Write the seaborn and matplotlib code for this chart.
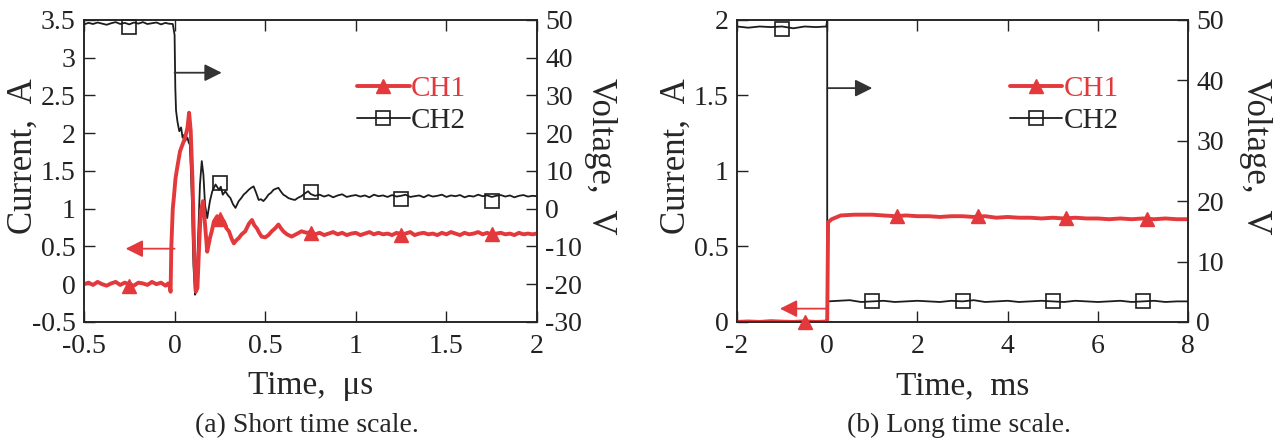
import matplotlib
matplotlib.use("Agg")
import matplotlib.pyplot as plt
import seaborn as sns
import pandas as pd
from matplotlib.lines import Line2D
from matplotlib.ticker import MultipleLocator, FuncFormatter

# ---------------- data, panel (a): short time scale (us) ----------------
a_pre_t = [-0.5, -0.475, -0.45, -0.425, -0.4, -0.375, -0.35, -0.325, -0.3, -0.275,
           -0.25, -0.225, -0.2, -0.175, -0.15, -0.125, -0.1, -0.075, -0.05, -0.035]
a_ch2_pre = [48.8, 49.2, 48.9, 49.3, 49.0, 48.7, 49.1, 49.4, 48.9, 49.2,
             48.8, 49.3, 49.0, 49.4, 48.9, 49.1, 49.3, 48.8, 49.2, 49.0]
a_ch1_pre = [0.0, 0.02, -0.01, 0.03, 0.0, -0.02, 0.01, 0.03, -0.01, 0.02,
             0.0, -0.02, 0.02, 0.01, -0.01, 0.03, 0.0, 0.02, -0.02, 0.01]

a_ch2_tr_t = [-0.01, 0.0, 0.004, 0.008, 0.016, 0.026, 0.036, 0.044, 0.052, 0.058,
              0.065, 0.071, 0.078, 0.084, 0.09, 0.095, 0.1, 0.104, 0.113, 0.118,
              0.122, 0.131, 0.14, 0.15, 0.159, 0.168, 0.18, 0.195, 0.208, 0.226,
              0.245, 0.255, 0.266, 0.28, 0.295, 0.308, 0.322, 0.336, 0.354, 0.368,
              0.381, 0.395, 0.409, 0.422, 0.436, 0.45, 0.464, 0.477, 0.49, 0.505,
              0.518, 0.532, 0.546, 0.56, 0.573, 0.587, 0.6, 0.614, 0.628, 0.646,
              0.664, 0.682, 0.7, 0.718, 0.737]
a_ch2_tr = [48.9, 46.0, 32.0, 26.0, 23.0, 20.5, 21.5, 18.8, 19.5, 17.9,
            18.5, 18.8, 17.5, 17.0, 10.0, 2.8, -8.0, -14.9, -22.8, -22.0,
            -20.0, -6.0, 6.4, 12.6, 9.0, 1.0, -2.5, 2.0, 4.6, 6.4,
            5.0, 5.8, 3.7, 4.6, 3.5, 2.8, 1.2, 0.2, 2.0, 2.8,
            3.7, 4.3, 5.0, 5.5, 5.9, 4.2, 2.3, 2.5, 2.0, 2.8,
            3.7, 4.2, 5.0, 5.3, 5.5, 4.5, 3.7, 3.3, 2.8, 2.5,
            2.3, 2.9, 3.3, 4.0, 4.6]

a_ch1_tr_t = [-0.03, -0.022, -0.018, -0.01, -0.004, 0.005, 0.015, 0.03, 0.044, 0.058,
              0.071, 0.08, 0.089, 0.099, 0.108, 0.117, 0.126, 0.135, 0.144, 0.157,
              0.168, 0.18, 0.195, 0.205, 0.217, 0.235, 0.254, 0.263, 0.272, 0.286,
              0.3, 0.315, 0.327, 0.34, 0.354, 0.37, 0.39, 0.41, 0.427, 0.44,
              0.454, 0.467, 0.48, 0.5, 0.518, 0.536, 0.555, 0.573, 0.587, 0.6,
              0.62, 0.646, 0.67, 0.7, 0.73]
a_ch1_tr = [0.0, -0.1, 0.5, 1.0, 1.15, 1.4, 1.55, 1.76, 1.85, 1.94,
            2.07, 2.27, 2.03, 1.36, 0.48, -0.1, -0.05, 0.48, 0.96, 1.1,
            0.79, 0.43, 0.61, 0.7, 0.83, 0.9, 0.79, 0.85, 0.83, 0.74,
            0.7, 0.6, 0.54, 0.58, 0.61, 0.66, 0.7, 0.8, 0.85, 0.78,
            0.74, 0.68, 0.63, 0.62, 0.65, 0.7, 0.74, 0.79, 0.74, 0.7,
            0.66, 0.63, 0.66, 0.7, 0.68]

a_post_t = [0.75 + 0.025 * k for k in range(51)]
a_ch2_post = [3.9, 3.4, 3.7, 3.2, 3.6, 3.0, 3.5, 3.8, 3.1, 3.4,
              3.6, 3.2, 3.5, 3.0, 3.7, 3.3, 3.5, 3.1, 3.6, 3.2,
              3.4, 3.7, 3.1, 3.3, 3.5, 3.0, 3.6, 3.2, 3.4, 3.7,
              3.1, 3.5, 3.3, 3.6, 3.0, 3.4, 3.2, 3.7, 3.3, 3.5,
              3.1, 3.4, 3.6, 3.2, 3.5, 3.0, 3.4, 3.6, 3.2, 3.4, 3.3]
a_ch1_post = [0.69, 0.66, 0.68, 0.65, 0.67, 0.69, 0.66, 0.68, 0.65, 0.67,
              0.68, 0.65, 0.67, 0.69, 0.66, 0.68, 0.66, 0.67, 0.65, 0.68,
              0.66, 0.67, 0.69, 0.65, 0.67, 0.68, 0.66, 0.67, 0.65, 0.68,
              0.66, 0.69, 0.67, 0.65, 0.68, 0.66, 0.67, 0.69, 0.66, 0.68,
              0.65, 0.67, 0.68, 0.66, 0.67, 0.65, 0.68, 0.66, 0.67, 0.66, 0.67]

a_ch1_mark_t = [-0.25, 0.25, 0.75, 1.25, 1.75]
a_ch1_mark = [-0.03, 0.86, 0.68, 0.65, 0.66]
a_ch2_mark_t = [-0.25, 0.25, 0.75, 1.25, 1.75]
a_ch2_mark = [48.2, 6.8, 4.4, 2.6, 2.0]

# ---------------- data, panel (b): long time scale (ms) ----------------
b_ch2_t = [-2.0, -1.75, -1.5, -1.25, -1.0, -0.75, -0.5, -0.25, -0.02, 0.0, 0.0, 0.01,
           0.25, 0.5, 0.75, 1.0, 1.25, 1.5, 1.75, 2.0, 2.25, 2.5, 2.75, 3.0,
           3.25, 3.5, 3.75, 4.0, 4.25, 4.5, 4.75, 5.0, 5.25, 5.5, 5.75, 6.0,
           6.25, 6.5, 6.75, 7.0, 7.25, 7.5, 7.75, 8.0]
b_ch2 = [48.9, 48.7, 48.9, 48.8, 48.9, 48.6, 48.9, 48.8, 48.9, 50.0, 3.5, 3.4,
         3.5, 3.6, 3.3, 3.4, 3.5, 3.3, 3.4, 3.5, 3.4, 3.3, 3.5, 3.4,
         3.6, 3.3, 3.4, 3.5, 3.3, 3.4, 3.5, 3.4, 3.3, 3.5, 3.4, 3.3,
         3.4, 3.5, 3.3, 3.4, 3.5, 3.3, 3.4, 3.4]
b_ch1_t = [-2.0, -1.75, -1.5, -1.25, -1.0, -0.75, -0.5, -0.25, -0.02, 0.0, 0.02, 0.1,
           0.3, 0.6, 1.0, 1.25, 1.5, 1.75, 2.0, 2.25, 2.5, 2.75, 3.0, 3.25,
           3.5, 3.75, 4.0, 4.25, 4.5, 4.75, 5.0, 5.25, 5.5, 5.75, 6.0, 6.25,
           6.5, 6.75, 7.0, 7.25, 7.5, 7.75, 8.0]
b_ch1 = [0.0, 0.003, 0.0, 0.005, 0.002, 0.0, 0.004, 0.0, 0.002, 0.0, 0.66, 0.68,
         0.705, 0.71, 0.71, 0.705, 0.70, 0.705, 0.70, 0.70, 0.695, 0.70, 0.70, 0.695,
         0.70, 0.69, 0.695, 0.69, 0.69, 0.685, 0.69, 0.685, 0.69, 0.685, 0.685, 0.68,
         0.685, 0.68, 0.685, 0.68, 0.685, 0.68, 0.68]

b_ch1_mark_t = [-0.5, 1.55, 3.35, 5.3, 7.1]
b_ch1_mark = [0.0, 0.70, 0.70, 0.685, 0.68]
b_ch2_mark_t = [-1.0, 1.0, 3.0, 5.0, 7.0]
b_ch2_mark = [48.5, 3.4, 3.4, 3.4, 3.4]

RED = "#e4393c"
BLK = "#1c1c1c"

sns.set_style("white")
plt.rcParams["font.family"] = ["Liberation Serif", "DejaVu Serif"]

fmt = FuncFormatter(lambda v, p: f"{v:g}")


def style_axis(ax, xlim, xstep, ylim, ystep):
    ax.set_xlim(*xlim)
    ax.set_ylim(*ylim)
    ax.xaxis.set_major_locator(MultipleLocator(xstep))
    ax.yaxis.set_major_locator(MultipleLocator(ystep))
    ax.xaxis.set_major_formatter(fmt)
    ax.yaxis.set_major_formatter(fmt)
    ax.tick_params(direction="in", length=8, width=1.0, labelsize=20,
                   top=True, bottom=True, pad=6, colors="#222222")
    ax.tick_params(axis="x", pad=9)
    for s in ax.spines.values():
        s.set_linewidth(1.1)
        s.set_color("#222222")


fig = plt.figure(figsize=(12.86, 4.41), dpi=100)
fig.patch.set_facecolor("white")

panels = [
    dict(rect=[0.0653, 0.270, 0.3523, 0.685], xlim=(-0.5, 2), xstep=0.5,
         ilim=(-0.5, 3.5), istep=0.5, vlim=(-30, 50), vstep=10,
         ch1=(a_pre_t + a_ch1_tr_t + a_post_t, a_ch1_pre + a_ch1_tr + a_ch1_post),
         ch2=(a_pre_t + a_ch2_tr_t + a_post_t, a_ch2_pre + a_ch2_tr + a_ch2_post),
         m1=(a_ch1_mark_t, a_ch1_mark), m2=(a_ch2_mark_t, a_ch2_mark),
         xlabel="Time,  \u03bcs", caption="(a) Short time scale.",
         black_arrow=((0.0, 36.0), (0.26, 36.0)), red_arrow=((0.0, 0.47), (-0.27, 0.47)),
         leg=(0.603, 0.815), vlab_x=1.14),
    dict(rect=[0.5731, 0.270, 0.3507, 0.685], xlim=(-2, 8), xstep=2,
         ilim=(0, 2), istep=0.5, vlim=(0, 50), vstep=10,
         ch1=(b_ch1_t, b_ch1), ch2=(b_ch2_t, b_ch2),
         m1=(b_ch1_mark_t, b_ch1_mark), m2=(b_ch2_mark_t, b_ch2_mark),
         xlabel="Time,  ms", caption="(b) Long time scale.",
         black_arrow=((0.0, 38.7), (1.0, 38.7)), red_arrow=((0.0, 0.088), (-1.05, 0.088)),
         leg=(0.605, 0.815), vlab_x=1.15),
]

for p in panels:
    ax = fig.add_axes(p["rect"])
    ax2 = ax.twinx()
    ax.set_zorder(ax2.get_zorder() + 1)
    ax.patch.set_visible(False)

    d1 = pd.DataFrame({"t": p["ch1"][0], "i": p["ch1"][1]})
    d2 = pd.DataFrame({"t": p["ch2"][0], "v": p["ch2"][1]})
    sns.lineplot(data=d2, x="t", y="v", ax=ax2, sort=False, estimator=None,
                 color=BLK, linewidth=1.3)
    sns.lineplot(data=d1, x="t", y="i", ax=ax, sort=False, estimator=None,
                 color=RED, linewidth=2.8)
    ax.plot(p["m1"][0], p["m1"][1], linestyle="none", marker="^", markersize=10,
            color=RED, clip_on=False, zorder=5)
    ax2.plot(p["m2"][0], p["m2"][1], linestyle="none", marker="s", markersize=10,
             markerfacecolor="none", markeredgecolor=BLK, markeredgewidth=1.2,
             clip_on=False, zorder=5)

    style_axis(ax, p["xlim"], p["xstep"], p["ilim"], p["istep"])
    style_axis(ax2, p["xlim"], p["xstep"], p["vlim"], p["vstep"])
    ax2.tick_params(axis="y", right=True, left=False, labelright=True, labelleft=False)
    ax.tick_params(axis="y", left=True, right=False)

    ax.set_xlabel(p["xlabel"], fontsize=24, labelpad=8)
    ax.set_ylabel("Current,  A", fontsize=25, va="bottom")
    ax.yaxis.set_label_coords(-0.098, 0.55)
    ax2.set_ylabel("Voltage,  V", fontsize=25, rotation=-90, va="center")
    ax2.yaxis.set_label_coords(p["vlab_x"], 0.55)

    (bx0, by0), (bx1, by1) = p["black_arrow"]
    ax2.annotate("", xy=(bx1, by1), xytext=(bx0, by0),
                 arrowprops=dict(arrowstyle="-|>", color="#333333", lw=1.3,
                                 mutation_scale=26, shrinkA=0, shrinkB=0))
    (rx0, ry0), (rx1, ry1) = p["red_arrow"]
    ax.annotate("", xy=(rx1, ry1), xytext=(rx0, ry0),
                arrowprops=dict(arrowstyle="-|>", color=RED, lw=1.3,
                                mutation_scale=26, shrinkA=0, shrinkB=0))

    handles = [Line2D([], [], color=RED, lw=2.8, marker="^", markersize=10),
               Line2D([], [], color=BLK, lw=1.3, marker="s", markersize=10,
                      markerfacecolor="none", markeredgewidth=1.2)]
    leg = ax.legend(handles, ["CH1", "CH2"], loc="upper left",
                    bbox_to_anchor=p["leg"], frameon=False, fontsize=21,
                    handlelength=1.8, handletextpad=0.05, labelspacing=0.2,
                    borderpad=0, borderaxespad=0)
    leg.get_texts()[0].set_color(RED)

    x0, _, w, _ = p["rect"]
    fig.text(x0 + w / 2 - 0.003, 0.036, p["caption"], ha="center", va="center",
             fontsize=20)

fig.savefig("out.png", dpi=100, facecolor="white")
